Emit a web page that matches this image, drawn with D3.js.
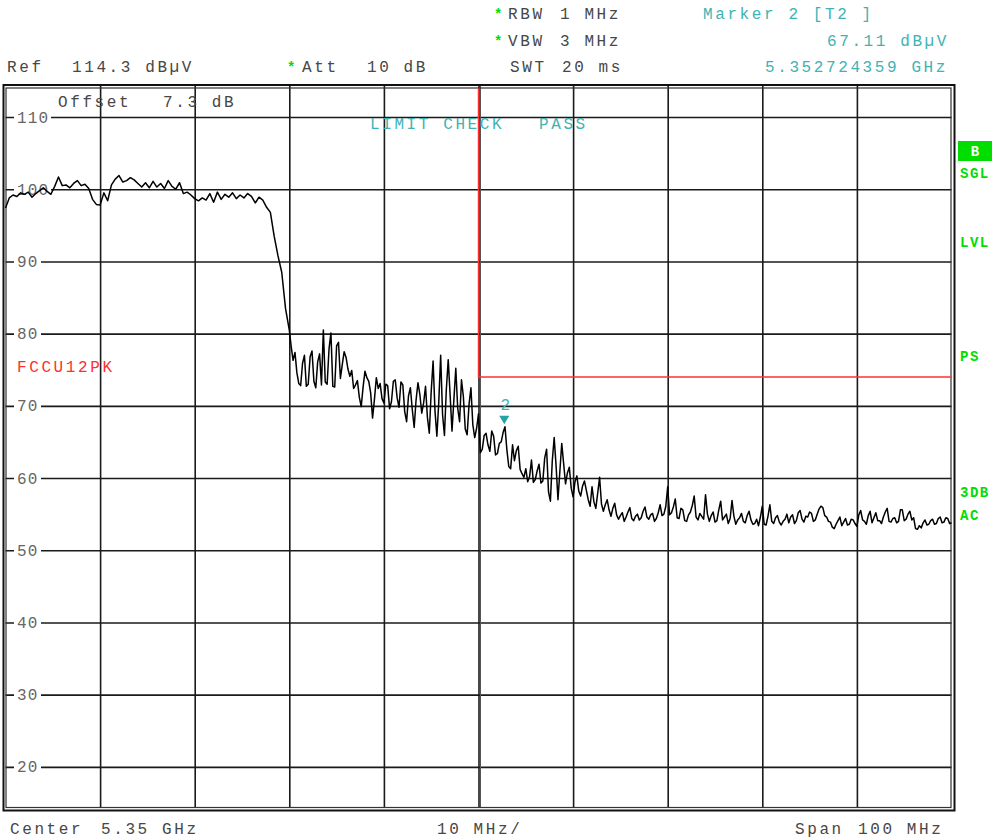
<!DOCTYPE html>
<html>
<head>
<meta charset="utf-8">
<script src="https://cdn.jsdelivr.net/npm/d3@7"></script>
<style>
  body { margin: 0; background: #fff; }
  text { font-family: "Liberation Mono", "Courier New", monospace; }
</style>
</head>
<body>
<div id="container"></div>
<script>
/* DATA */
// trace part A: dBuV every 0.4 MHz from 5300 MHz (flat top + roll-off)
const startA = 5300, stepA = 0.4;
const levelA = [
  97.4, 98.8, 99.2, 99.0, 99.5, 99.3, 99.6, 98.9, 99.4, 99.8,
  100.2, 99.7, 99.3, 100.4, 101.7, 100.5, 100.6, 100.2, 100.8, 101.2,
  100.5, 100.7, 100.1, 98.6, 97.9, 97.8, 99.5, 98.4, 100.6, 101.4,
  101.9, 101.0, 101.2, 101.6, 101.3, 100.8, 100.3, 100.9, 100.2, 101.1,
  100.3, 100.8, 100.1, 101.2, 100.4, 100.0, 100.9, 99.4, 99.6, 99.2,
  98.7, 98.4, 98.8, 98.5, 99.4, 98.2, 99.6, 98.6, 99.3, 98.9,
  99.5, 98.7, 99.2, 98.8, 99.4, 99.0, 98.1, 98.9, 98.5, 97.5,
  96.8, 93.5, 90.8, 88.5, 83.5
];
// trace part B: dBuV every 0.2 MHz from 5330 MHz (noisy part)
const startB = 5330, stepB = 0.2;
const levelB = [
  80.5, 78.2, 76.3, 77.4, 74.6, 73.1, 72.8, 75.9, 77.0, 72.7,
  73.0, 76.8, 77.6, 73.4, 72.5, 76.1, 77.2, 72.9, 80.5, 73.3,
  73.0, 77.9, 80.1, 72.7, 72.6, 78.3, 78.8, 73.8, 75.7, 77.5,
  76.7, 75.1, 74.1, 74.9, 72.4, 72.9, 73.5, 71.2, 69.9, 72.6,
  74.8, 73.9, 73.4, 71.8, 68.3, 70.9, 73.9, 72.4, 73.1, 71.0,
  70.4, 73.0, 72.8, 69.6, 70.6, 73.4, 73.6, 71.1, 69.8, 73.3,
  72.9, 69.2, 67.8, 71.4, 72.5, 69.5, 67.0, 70.8, 73.2, 71.6,
  69.0, 70.4, 72.7, 68.4, 66.2, 72.0, 76.2, 69.3, 65.8, 70.5,
  77.0, 68.8, 65.9, 72.3, 76.4, 71.5, 66.5, 70.9, 75.2, 69.7,
  67.8, 73.6, 71.3, 66.8, 66.0, 70.2, 72.5, 67.4, 65.6, 66.9,
  68.9, 63.5, 64.0, 65.9, 66.2, 64.6, 63.7, 66.5, 65.8, 63.2,
  63.4, 64.8, 65.0, 66.3, 67.1, 63.9, 61.6, 61.3, 64.6, 62.4,
  63.8, 64.4, 61.2, 60.6, 60.1, 61.3, 59.5, 60.2, 62.5, 59.4,
  59.8, 61.0, 61.9, 59.3, 59.6, 62.8, 64.0, 58.1, 56.8, 62.4,
  65.6, 61.7, 57.0, 60.9, 64.8, 62.0, 59.2, 60.7, 61.5, 58.6,
  57.4, 59.5, 60.3, 58.2, 57.5, 58.9, 59.6, 58.3, 57.0, 56.1,
  58.8, 56.7, 55.8, 57.9, 60.1, 56.4, 55.4, 56.3, 57.0, 55.6,
  54.7, 55.8, 56.5, 54.9, 54.3, 54.8, 55.2, 54.0, 54.6, 55.3,
  55.9, 54.4, 54.1, 54.7, 55.0, 54.2, 54.5, 55.4, 56.0, 54.6,
  54.3, 54.9, 55.1, 54.0, 54.4, 55.2, 56.3, 54.8, 55.0, 56.1,
  58.8, 54.9, 55.2, 56.0, 57.1, 54.5, 54.4, 55.8, 55.6, 54.1,
  54.0, 54.9, 55.3, 56.2, 57.5, 54.6, 54.2, 55.1, 54.7, 54.3,
  57.7, 55.0, 54.0, 54.8, 55.3, 53.9, 54.1, 55.6, 56.8, 54.2,
  54.6, 55.0, 53.7, 54.4, 56.9, 54.7, 53.6, 54.2, 54.5, 55.1,
  54.0, 53.8, 54.8, 55.4, 54.2, 53.6, 53.7, 54.3, 53.4, 54.6,
  56.1, 53.6, 53.5, 54.7, 56.3, 54.0, 53.7, 54.5, 54.8, 53.9,
  53.5, 54.0, 54.3, 55.0, 53.8, 54.6, 54.9, 53.7, 54.1, 55.2,
  55.5, 54.3, 53.9, 54.7, 54.6, 55.3, 55.1, 54.0, 54.2, 55.0,
  55.7, 56.1, 55.9, 54.8, 54.6, 54.0, 53.9, 53.2, 53.0, 53.6,
  54.1, 54.6, 53.4, 53.9, 54.4, 53.5, 53.6, 54.3, 54.2, 53.7,
  53.3, 54.9, 55.5, 54.2, 54.0, 53.6, 54.8, 55.4, 53.8, 54.5,
  55.2, 54.1, 54.1, 53.7, 54.6, 55.3, 55.8, 54.0, 53.9, 54.4,
  54.5, 53.8, 54.0, 55.6, 55.6, 54.1, 54.3, 55.0, 55.4, 54.2,
  54.5, 53.0, 52.9, 53.4, 53.1, 53.8, 54.2, 53.5, 53.6, 54.1,
  54.3, 53.6, 53.7, 54.4, 54.6, 53.8, 53.9, 54.5, 54.4, 53.7,
  53.8
];

const yTicks = [110, 100, 90, 80, 70, 60, 50, 40, 30, 20];
const xGrid = [5310, 5320, 5330, 5340, 5350, 5360, 5370, 5380, 5390];

// FCC limit line
const limitFreq = [5350, 5350, 5400];
const limitLevel = [114.0, 74, 74];

const markerFreq = 5352.724359;
const markerLevel = 67.11;

/* CONSTANTS */
const width = 994;
const height = 840;
const plotLeft = 5.5, plotRight = 951.5, plotTop = 86, plotBottom = 808;

const grey = "#474747";
const teal = "#3fb3b3";
const green = "#00dd00";
const red = "#ff3030";

const trace = levelA.map((v, i) => [startA + i * stepA, v])
  .concat(levelB.map((v, i) => [startB + i * stepB, v]));

/* SCALES */
const xScale = d3.scaleLinear()
  .domain([5300, 5400])
  .range([plotLeft, plotRight]);

const yScale = d3.scaleLinear()
  .domain([14.3, 114.3])
  .range([plotBottom, plotTop]);

const svg = d3.select("#container")
  .append("svg")
  .attr("width", width)
  .attr("height", height)
  .style("display", "block");

svg.append("rect").attr("width", width).attr("height", height).attr("fill", "#fff");

// grid lines through d3 axes
const gridY = svg.append("g")
  .attr("transform", `translate(${plotLeft},0)`)
  .call(d3.axisLeft(yScale).tickValues(yTicks).tickSize(-(plotRight - plotLeft)).tickFormat(""));
const gridX = svg.append("g")
  .attr("transform", `translate(0,${plotBottom})`)
  .call(d3.axisBottom(xScale).tickValues(xGrid).tickSize(-(plotBottom - plotTop)).tickFormat(""));
[gridY, gridX].forEach(g => {
  g.select(".domain").remove();
  g.selectAll(".tick line").attr("stroke", "#1a1a1a").attr("stroke-width", 1.6);
});
// center line is drawn double
svg.append("line")
  .attr("x1", xScale(5350) + 2).attr("x2", xScale(5350) + 2)
  .attr("y1", plotTop).attr("y2", plotBottom)
  .attr("stroke", "#555").attr("stroke-width", 1);

// y labels with white gap in the grid line
yTicks.forEach(v => {
  const w = v >= 100 ? 37 : 27;
  svg.append("rect")
    .attr("x", 14).attr("y", yScale(v) - 7)
    .attr("width", w).attr("height", 14)
    .attr("fill", "#fff");
  svg.append("text")
    .attr("x", 17).attr("y", yScale(v) + 5.5)
    .attr("fill", "#666")
    .style("font-size", "16px")
    .style("letter-spacing", "1.2px")
    .text(v);
});

// frame (double)
svg.append("rect")
  .attr("x", 3.5).attr("y", 85).attr("width", 951).attr("height", 725.5)
  .attr("fill", "none").attr("stroke", "#111").attr("stroke-width", 2);
svg.append("rect")
  .attr("x", 6).attr("y", 88).attr("width", 945).attr("height", 719.5)
  .attr("fill", "none").attr("stroke", "#333").attr("stroke-width", 1.2);

// limit line
svg.append("path")
  .datum(limitFreq.map((f, i) => [f, limitLevel[i]]))
  .attr("d", d3.line().x(d => xScale(d[0])).y(d => yScale(d[1])))
  .attr("fill", "none").attr("stroke", red).attr("stroke-width", 1.5);

// trace
svg.append("path")
  .datum(trace)
  .attr("d", d3.line()
    .x(d => xScale(d[0]))
    .y(d => yScale(d[1])))
  .attr("fill", "none")
  .attr("stroke", "#000")
  .attr("stroke-width", 1.5)
  .attr("stroke-linejoin", "round");

// marker 2
const mx = xScale(markerFreq), my = yScale(markerLevel);
svg.append("path")
  .attr("d", `M${mx - 5},${my - 11}L${mx + 5},${my - 11}L${mx},${my - 2.5}Z`)
  .attr("fill", "#23a3a3");
svg.append("text")
  .attr("x", mx + 1).attr("y", my - 17)
  .attr("text-anchor", "middle")
  .attr("fill", teal)
  .style("font-size", "16px")
  .text("2");

/* TEXTS */
function label(x, y, str, color, extra) {
  const t = svg.append("text")
    .attr("x", x).attr("y", y)
    .attr("fill", color)
    .style("font-size", "16px")
    .style("letter-spacing", "2.6px")
    .text(str);
  if (extra) extra(t);
  return t;
}
const star = (x, y) => label(x, y, "*", green, t => t.style("font-weight", "bold").style("font-size", "14px"));

// header
star(494, 19); label(508, 19, "RBW", grey); label(560, 19, "1 MHz", grey);
star(494, 46); label(508, 46, "VBW", grey); label(560, 46, "3 MHz", grey);
label(510, 72, "SWT", grey); label(562, 72, "20 ms", grey);
label(7, 72, "Ref", grey); label(72, 72, "114.3 dBµV", grey);
star(287, 72); label(302, 72, "Att", grey); label(367, 72, "10 dB", grey);
label(703, 19, "Marker 2 [T2 ]", teal);
label(827, 46, "67.11 dBµV", teal);
label(765, 72, "5.352724359 GHz", teal);

// inside plot
label(58, 107, "Offset", grey); label(163, 107, "7.3 dB", grey);
label(370, 129, "LIMIT CHECK", teal); label(539, 129, "PASS", teal);
label(17, 372, "FCCU12PK", red);

// footer
label(10, 834, "Center", grey); label(101, 834, "5.35 GHz", grey);
label(437, 834, "10 MHz/", grey);
label(795, 834, "Span", grey); label(858, 834, "100 MHz", grey);

// right side status
svg.append("rect").attr("x", 958).attr("y", 141).attr("width", 34).attr("height", 20).attr("fill", green);
svg.append("text").attr("x", 975).attr("y", 156).attr("text-anchor", "middle")
  .attr("fill", "#fff").style("font-size", "14px").style("font-weight", "bold").text("B");
[["SGL", 178], ["LVL", 247], ["PS", 361], ["3DB", 497], ["AC", 520]].forEach(([s, yy]) => {
  svg.append("text").attr("x", 960).attr("y", yy)
    .attr("fill", green)
    .style("font-size", "14px").style("font-weight", "bold").style("letter-spacing", "1.5px")
    .text(s);
});
</script>
</body>
</html>
